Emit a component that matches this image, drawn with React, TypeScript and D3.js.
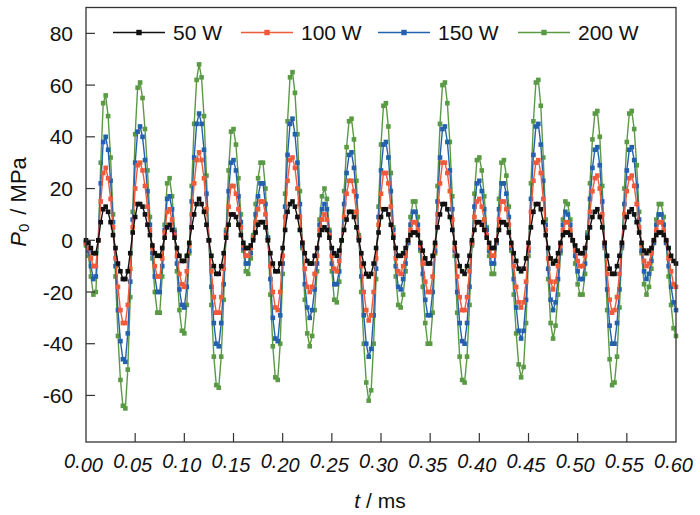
import * as d3 from 'd3'

// sample step of the pressure record (ms)
const dt = 0.0025
const xTicks = [0, 0.05, 0.1, 0.15, 0.2, 0.25, 0.3, 0.35, 0.4, 0.45, 0.5, 0.55, 0.6]
const yTicks = [-60, -40, -20, 0, 20, 40, 60, 80]
const seriesNames = ['50 W', '100 W', '150 W', '200 W']
const seriesColors = ['#111111', '#ee5a3a', '#2461ad', '#5b9a45']

const p50 = [
  0, -1, -3, -5, -5, 0, 7, 12, 13, 11,
  7, 2, -3, -9, -12, -15, -15, -12, -5, 3,
  9, 14, 14, 13, 10, 6, 2, -2, -5, -6,
  -6, -3, 1, 5, 6, 4, 1, -3, -6, -8,
  -8, -6, -1, 5, 10, 14, 16, 14, 11, 6,
  0, -6, -10, -13, -13, -10, -5, 1, 6, 10,
  10, 9, 6, 2, -1, -3, -3, -2, 0, 3,
  6, 7, 7, 5, 0, -5, -9, -12, -12, -9,
  -3, 4, 11, 14, 15, 13, 9, 4, -1, -5,
  -8, -9, -9, -6, -3, 2, 4, 5, 4, 1,
  -3, -5, -6, -4, 0, 4, 8, 11, 11, 9,
  5, 0, -5, -9, -13, -14, -13, -9, -3, 3,
  9, 12, 12, 10, 6, 1, -3, -6, -6, -5,
  -3, 0, 2, 3, 3, 2, -1, -4, -7, -9,
  -9, -6, -1, 5, 10, 14, 14, 12, 9, 4,
  -1, -6, -10, -12, -13, -10, -6, 0, 4, 7,
  7, 6, 4, 1, -1, -3, -3, 0, 4, 7,
  7, 6, 3, -1, -5, -8, -11, -12, -11, -7,
  -1, 5, 11, 14, 14, 12, 7, 2, -3, -7,
  -9, -8, -5, -1, 2, 3, 3, 2, 0, -2,
  -4, -5, -5, -3, 1, 5, 9, 11, 12, 9,
  5, -1, -6, -11, -13, -13, -10, -6, -1, 5,
  9, 11, 12, 10, 7, 3, -1, -4, -5, -4,
  -3, 0, 2, 3, 3, 2, 0, -3, -6, -8, -9,
]

const p100 = [
  -1, -3, -7, -10, -10, 0, 15, 26, 28, 24,
  16, 5, -7, -18, -27, -32, -32, -25, -11, 5,
  20, 29, 30, 27, 21, 13, 4, -3, -10, -14,
  -14, -7, 3, 11, 12, 8, 2, -6, -13, -17,
  -18, -12, -2, 10, 22, 31, 34, 31, 24, 12,
  0, -12, -22, -28, -28, -22, -11, 2, 13, 21,
  21, 18, 12, 5, -2, -6, -6, -3, 1, 7,
  12, 15, 15, 10, 0, -10, -20, -26, -27, -20,
  -6, 9, 23, 31, 32, 28, 20, 9, -1, -11,
  -18, -20, -18, -13, -6, 4, 8, 10, 8, 2,
  -6, -11, -12, -8, 0, 9, 18, 23, 23, 19,
  11, 1, -10, -20, -27, -31, -29, -20, -7, 6,
  18, 26, 26, 22, 13, 2, -7, -12, -13, -10,
  -6, 0, 4, 7, 7, 4, -2, -9, -16, -20,
  -20, -14, -2, 10, 22, 30, 30, 26, 19, 8,
  -3, -14, -22, -27, -27, -22, -12, -1, 9, 15,
  16, 13, 8, 2, -3, -6, -6, 0, 8, 15,
  15, 12, 6, -2, -10, -18, -24, -26, -24, -16,
  -3, 11, 23, 30, 31, 26, 16, 4, -7, -16,
  -19, -16, -10, -2, 4, 7, 7, 4, 0, -4,
  -8, -10, -10, -6, 1, 11, 19, 24, 25, 20,
  10, -1, -13, -23, -28, -27, -22, -13, -1, 10,
  19, 24, 25, 21, 14, 5, -2, -8, -10, -9,
  -5, 0, 4, 7, 7, 4, 0, -7, -12, -17, -18,
]

const p150 = [
  -1, -4, -10, -15, -14, 0, 22, 38, 40, 35,
  23, 7, -10, -27, -39, -46, -47, -36, -16, 8,
  30, 42, 44, 40, 31, 19, 6, -5, -14, -20,
  -20, -10, 4, 16, 17, 12, 3, -9, -19, -25,
  -26, -18, -4, 15, 32, 45, 49, 45, 35, 18,
  0, -18, -32, -40, -41, -32, -17, 3, 19, 30,
  31, 27, 17, 7, -3, -9, -9, -5, 1, 10,
  17, 22, 22, 14, 1, -15, -30, -38, -39, -29,
  -9, 13, 33, 45, 47, 41, 30, 14, -2, -17,
  -26, -30, -27, -19, -9, 6, 12, 14, 12, 3,
  -9, -17, -17, -12, 0, 14, 26, 33, 34, 28,
  17, 1, -14, -29, -40, -45, -42, -29, -11, 9,
  27, 37, 38, 32, 19, 4, -10, -18, -19, -15,
  -9, -1, 6, 11, 11, 6, -3, -13, -23, -29,
  -29, -20, -4, 15, 32, 43, 44, 38, 27, 12,
  -4, -20, -32, -39, -40, -32, -18, -1, 13, 22,
  23, 19, 12, 4, -4, -9, -9, -1, 12, 22,
  22, 18, 9, -3, -15, -26, -35, -38, -35, -23,
  -4, 16, 33, 44, 45, 37, 23, 6, -11, -23,
  -27, -24, -15, -4, 6, 11, 10, 6, 0, -6,
  -12, -15, -15, -9, 2, 16, 28, 35, 36, 29,
  15, -2, -19, -33, -40, -40, -32, -19, -2, 14,
  27, 35, 36, 31, 21, 8, -4, -12, -15, -13,
  -8, -1, 6, 10, 10, 6, -1, -10, -18, -24, -27,
]

const p200 = [
  -2, -6, -14, -21, -20, 0, 30, 53, 56, 48,
  32, 10, -14, -37, -54, -64, -65, -50, -22, 11,
  41, 59, 61, 55, 43, 27, 9, -7, -20, -28,
  -28, -14, 6, 22, 24, 17, 4, -12, -27, -35,
  -36, -25, -5, 21, 45, 62, 68, 63, 48, 25,
  0, -25, -45, -56, -57, -45, -23, 4, 27, 42,
  43, 37, 24, 10, -4, -12, -13, -7, 2, 14,
  24, 30, 30, 20, 1, -21, -41, -53, -54, -40,
  -13, 18, 46, 63, 65, 57, 41, 19, -3, -23,
  -36, -41, -37, -27, -12, 8, 17, 20, 16, 4,
  -12, -23, -24, -16, 0, 19, 36, 46, 47, 39,
  23, 2, -20, -40, -55, -62, -58, -40, -15, 13,
  37, 52, 53, 44, 26, 5, -14, -25, -26, -21,
  -12, -1, 9, 15, 15, 9, -4, -18, -32, -40,
  -40, -28, -5, 21, 45, 60, 61, 53, 38, 17,
  -6, -28, -45, -54, -55, -45, -25, -2, 18, 31,
  32, 27, 17, 5, -6, -13, -13, -1, 16, 30,
  31, 25, 13, -4, -21, -36, -48, -53, -49, -32,
  -6, 22, 46, 61, 62, 52, 32, 8, -15, -32,
  -38, -33, -21, -5, 8, 15, 14, 8, 0, -9,
  -17, -21, -21, -13, 3, 22, 39, 49, 50, 40,
  21, -3, -27, -46, -56, -55, -45, -26, -3, 20,
  38, 49, 50, 43, 29, 11, -5, -17, -21, -18,
  -11, -1, 8, 14, 14, 9, -1, -14, -25, -34, -37,
]

const seriesData = [p50, p100, p150, p200]

const FONT = '"Liberation Sans", Arial, sans-serif'

export default function App() {
  const width = 700
  const height = 515
  const plot = { left: 86, right: 676, top: 7.5, bottom: 442 }

  const x = d3.scaleLinear().domain([0, 0.6]).range([plot.left, plot.right])
  const y = d3.scaleLinear().domain([-78, 90]).range([plot.bottom, plot.top])

  const line = d3
    .line<number>()
    .x((_, i) => x(i * dt))
    .y((d) => y(d))

  const mk = 4.6
  const tickLen = 9

  // legend layout
  const legendX = [113, 241, 378, 518]
  const legendY = 32.5
  const legendLine = 52

  // draw 200 W first so black lies on top
  const order = [3, 2, 1, 0]

  return (
    <svg
      width={width}
      height={height}
      style={{ position: 'absolute', left: 0, top: 0, background: '#fff' }}
      fontFamily={FONT}
    >
      <rect x={0} y={0} width={width} height={height} fill="#fff" />

      {/* series */}
      <g>
        {order.map((si) => (
          <g key={si}>
            <path d={line(seriesData[si]) ?? ''} fill="none" stroke={seriesColors[si]} strokeWidth={1.4} />
            {seriesData[si].map((v, i) => (
              <rect
                key={i}
                x={x(i * dt) - mk / 2}
                y={y(v) - mk / 2}
                width={mk}
                height={mk}
                fill={seriesColors[si]}
              />
            ))}
          </g>
        ))}
      </g>

      {/* frame */}
      <rect
        x={plot.left}
        y={plot.top}
        width={plot.right - plot.left}
        height={plot.bottom - plot.top}
        fill="none"
        stroke="#333"
        strokeWidth={1.3}
      />

      {/* y ticks */}
      {yTicks.map((t) => (
        <g key={t}>
          <line x1={plot.left} x2={plot.left + tickLen} y1={y(t)} y2={y(t)} stroke="#333" strokeWidth={1.2} />
          <text x={73} y={y(t)} dy="0.36em" textAnchor="end" fontSize={21} fill="#111">
            {t}
          </text>
        </g>
      ))}

      {/* x ticks */}
      {xTicks.map((t) => {
        const s = t.toFixed(2)
        return (
          <g key={t}>
            {t > 0 && t < 0.6 && (
              <line x1={x(t)} x2={x(t)} y1={plot.bottom} y2={plot.bottom - tickLen} stroke="#333" strokeWidth={1.2} />
            )}
            <text x={x(t) - 2.5} y={468} textAnchor="middle" fontStyle="italic" fontSize={20} fill="#111">
              <tspan>{s.slice(0, 2)}</tspan>
              <tspan dy={4}>{s.slice(2)}</tspan>
            </text>
          </g>
        )
      })}

      {/* axis titles */}
      <text x={380} y={508} textAnchor="middle" fontSize={21} fill="#111">
        <tspan fontStyle="italic">t</tspan>
        <tspan> / ms</tspan>
      </text>
      <text transform="translate(26,202) rotate(-90)" textAnchor="middle" fontSize={22} fill="#111">
        <tspan fontStyle="italic">P</tspan>
        <tspan fontSize={15} dy={3}>
          0
        </tspan>
        <tspan dy={-3} dx={3}>
          {' / MPa'}
        </tspan>
      </text>

      {/* legend */}
      {seriesNames.map((name, i) => (
        <g key={name}>
          <line
            x1={legendX[i]}
            x2={legendX[i] + legendLine}
            y1={legendY}
            y2={legendY}
            stroke={seriesColors[i]}
            strokeWidth={1.5}
          />
          <rect
            x={legendX[i] + legendLine / 2 - 2.7}
            y={legendY - 2.7}
            width={5.4}
            height={5.4}
            fill={seriesColors[i]}
          />
          <text x={legendX[i] + legendLine + 8} y={legendY + 7.5} fontSize={21} fill="#111">
            {name}
          </text>
        </g>
      ))}
    </svg>
  )
}
